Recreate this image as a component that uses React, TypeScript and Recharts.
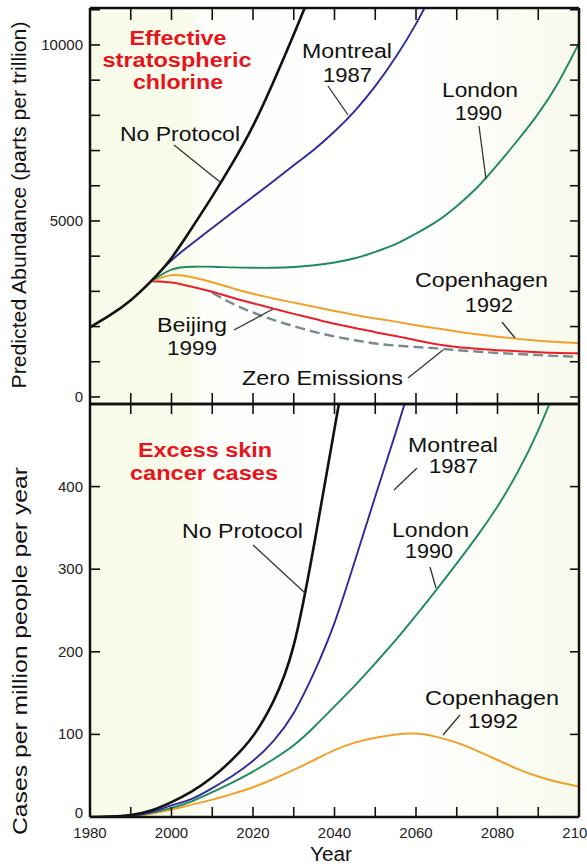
import { LineChart, Line, XAxis, YAxis } from 'recharts';

const YEARS = [1980, 1985, 1990, 1995, 2000, 2005, 2010, 2015, 2020, 2025, 2030, 2035, 2040, 2045, 2050, 2055, 2060, 2065, 2070, 2075, 2080, 2085, 2090, 2095, 2100];

// Effective stratospheric chlorine (ppt)
const chlorineNoProtocol = [1980, 2330, 2750, 3290, 3950, 4800, 5700, 6650, 7700, 8950, 10300, 11700, null, null, null, null, null, null, null, null, null, null, null, null, null];
const chlorineMontreal = [null, null, null, 3290, 3880, 4350, 4800, 5250, 5690, 6130, 6580, 7030, 7540, 8130, 8830, 9650, 10600, 11700, null, null, null, null, null, null, null];
const chlorineLondon = [null, null, null, 3290, 3620, 3700, 3700, 3680, 3670, 3670, 3690, 3740, 3820, 3940, 4120, 4340, 4640, 4980, 5420, 5950, 6600, 7300, 8050, 8950, 10050];
const chlorineCopenhagen = [null, null, null, 3290, 3460, 3400, 3260, 3090, 2930, 2800, 2680, 2560, 2440, 2330, 2230, 2140, 2040, 1950, 1860, 1780, 1710, 1650, 1600, 1560, 1530];
const chlorineBeijing = [null, null, null, 3290, 3250, 3130, 2990, 2820, 2660, 2510, 2360, 2220, 2080, 1960, 1840, 1730, 1610, 1500, 1420, 1370, 1330, 1300, 1270, 1250, 1240];
const chlorineZero = [null, null, null, null, null, null, 2960, 2650, 2400, 2190, 2010, 1850, 1720, 1610, 1520, 1460, 1420, 1380, 1330, 1290, 1250, 1220, 1190, 1160, 1140];

// Excess skin cancer cases (per million people per year)
const casesNoProtocol = [0, 0.5, 2.5, 8, 18, 31, 48, 70, 98, 140, 208, 330, 470, 610, null, null, null, null, null, null, null, null, null, null, null];
const casesMontreal = [0, 0.3, 1.5, 6, 14, 22, 35, 50, 68, 92, 126, 175, 235, 310, 388, 465, 545, null, null, null, null, null, null, null, null];
const casesLondon = [0, 0.3, 1.5, 5, 11, 19, 30, 42, 55, 70, 87, 109, 134, 159, 186, 214, 244, 275, 307, 340, 376, 418, 468, 528, null];
const casesCopenhagen = [0, 0.2, 1, 4, 9, 15, 21, 28, 36, 46, 57, 69, 81, 90, 96, 100, 101, 97, 90, 80, 69, 58, 49, 42, 37];

const X_TICKS = [1980, 1990, 2000, 2010, 2020, 2030, 2040, 2050, 2060, 2070, 2080, 2090, 2100];
const X_LABELS = [1980, 2000, 2020, 2040, 2060, 2080, 2100];
const CHLORINE_TICKS = [0, 1000, 2000, 3000, 4000, 5000, 6000, 7000, 8000, 9000, 10000, 11000];
const CHLORINE_LABELS = [0, 5000, 10000];
const CASES_TICKS = [0, 100, 200, 300, 400];

const chlorineRows = YEARS.map((year, i) => ({
  year,
  noProtocol: chlorineNoProtocol[i],
  montreal: chlorineMontreal[i],
  london: chlorineLondon[i],
  copenhagen: chlorineCopenhagen[i],
  beijing: chlorineBeijing[i],
  zero: chlorineZero[i],
}));

const casesRows = YEARS.map((year, i) => ({
  year,
  noProtocol: casesNoProtocol[i],
  montreal: casesMontreal[i],
  london: casesLondon[i],
  copenhagen: casesCopenhagen[i],
}));

const FONT = '"Liberation Sans", Arial, Helvetica, sans-serif';
const INK = '#111';
const COLORS = {
  noProtocol: '#111111',
  montreal: '#2e2b9c',
  london: '#1f8a5c',
  copenhagen: '#f2a02c',
  beijing: '#e8202a',
  zero: '#7b8993',
};

// tick marks point into the plot, labels sit outside
const leftTick = (labels: number[], zeroDy = 5) => (props: any) => {
  const { x, y, payload } = props;
  return (
    <g>
      <line x1={x} x2={x + 10} y1={y} y2={y} stroke={INK} strokeWidth={1.6} />
      {labels.includes(payload.value) && (
        <text x={x - 7} y={y} dy={payload.value === 0 ? zeroDy : 5} textAnchor="end" fontSize={15} fill="#222" fontFamily={FONT}>
          {payload.value}
        </text>
      )}
    </g>
  );
};

const rightTick = (props: any) => {
  const { x, y } = props;
  return <line x1={x - 9} x2={x} y1={y} y2={y} stroke={INK} strokeWidth={1.6} />;
};

const downTick = (len: number) => (props: any) => {
  const { x, y } = props;
  return <line x1={x} x2={x} y1={y} y2={y + len} stroke={INK} strokeWidth={1.6} />;
};

const upTick = (len: number, withLabel: boolean) => (props: any) => {
  const { x, y, payload } = props;
  return (
    <g>
      <line x1={x} x2={x} y1={y} y2={y - len} stroke={INK} strokeWidth={1.6} />
      {withLabel && X_LABELS.includes(payload.value) && (
        <text x={x} y={y + 21} textAnchor="middle" fontSize={15} fill="#222" fontFamily={FONT}>
          {payload.value}
        </text>
      )}
    </g>
  );
};

const axisLine = { stroke: INK, strokeWidth: 2.5 };

const Note = ({ x, y, w, children, anchor = 'start', bold = false, color = '#111', size = 20 }: any) => (
  <text
    x={x}
    y={y}
    textLength={w}
    lengthAdjust="spacingAndGlyphs"
    textAnchor={anchor}
    fontSize={size}
    fontWeight={bold ? 'bold' : 'normal'}
    fill={color}
    fontFamily={FONT}
  >
    {children}
  </text>
);

const Pointer = ({ x1, y1, x2, y2 }: any) => (
  <line x1={x1} y1={y1} x2={x2} y2={y2} stroke="#333" strokeWidth={1.3} />
);

const App = () => {
  return (
    <div style={{ position: 'absolute', left: 0, top: 0, width: 587, height: 865, overflow: 'hidden', background: '#fff' }}>
      {/* pale shading behind both panels */}
      <div
        style={{
          position: 'absolute',
          left: 90,
          top: 8,
          width: 489,
          height: 809,
          background:
            'linear-gradient(to right, #f9fbea 0%, #f9fbeb 20%, #fefefb 23%, #ffffff 65%, #f8faed 100%)',
        }}
      />

      <div style={{ position: 'absolute', left: 0, top: 0 }}>
        <LineChart width={587} height={406} data={chlorineRows} margin={{ top: 0, right: 0, bottom: 0, left: 0 }}>
          <XAxis xAxisId="t" orientation="top" dataKey="year" type="number" domain={[1980, 2100]} allowDataOverflow
            ticks={X_TICKS} interval={0} height={8} tickSize={0} tickMargin={0} tickLine={false} axisLine={axisLine} tick={downTick(12)} />
          <XAxis xAxisId="b" dataKey="year" type="number" domain={[1980, 2100]} allowDataOverflow
            ticks={X_TICKS} interval={0} height={2} tickSize={0} tickMargin={0} tickLine={false} axisLine={axisLine} tick={upTick(11, false)} />
          <YAxis yAxisId="l" type="number" domain={[-200, 11050]} allowDataOverflow ticks={CHLORINE_TICKS} interval={0}
            width={90} tickSize={0} tickMargin={0} tickLine={false} axisLine={axisLine} tick={leftTick(CHLORINE_LABELS)} />
          <YAxis yAxisId="r" orientation="right" type="number" domain={[-200, 11050]} allowDataOverflow ticks={CHLORINE_TICKS} interval={0}
            width={8} tickSize={0} tickMargin={0} tickLine={false} axisLine={axisLine} tick={rightTick} />
          <Line xAxisId="b" yAxisId="l" type="natural" dataKey="zero" stroke={COLORS.zero} strokeWidth={2.4} strokeDasharray="10 5" dot={false} isAnimationActive={false} />
          <Line xAxisId="b" yAxisId="l" type="natural" dataKey="beijing" stroke={COLORS.beijing} strokeWidth={2} dot={false} isAnimationActive={false} />
          <Line xAxisId="b" yAxisId="l" type="natural" dataKey="copenhagen" stroke={COLORS.copenhagen} strokeWidth={2} dot={false} isAnimationActive={false} />
          <Line xAxisId="b" yAxisId="l" type="natural" dataKey="london" stroke={COLORS.london} strokeWidth={1.9} dot={false} isAnimationActive={false} />
          <Line xAxisId="b" yAxisId="l" type="natural" dataKey="montreal" stroke={COLORS.montreal} strokeWidth={1.9} dot={false} isAnimationActive={false} />
          <Line xAxisId="b" yAxisId="l" type="natural" dataKey="noProtocol" stroke={COLORS.noProtocol} strokeWidth={2.6} dot={false} isAnimationActive={false} />
        </LineChart>
      </div>

      <div style={{ position: 'absolute', left: 0, top: 400 }}>
        <LineChart width={587} height={465} data={casesRows} margin={{ top: 0, right: 0, bottom: 0, left: 0 }}>
          <XAxis xAxisId="t" orientation="top" dataKey="year" type="number" domain={[1980, 2100]} allowDataOverflow
            ticks={X_TICKS} interval={0} height={4} tickSize={0} tickMargin={0} tickLine={false} axisLine={axisLine} tick={downTick(10)} />
          <XAxis xAxisId="b" dataKey="year" type="number" domain={[1980, 2100]} allowDataOverflow
            ticks={X_TICKS} interval={0} height={48} tickSize={0} tickMargin={0} tickLine={false} axisLine={axisLine} tick={upTick(10, true)} />
          <YAxis yAxisId="l" type="number" domain={[0, 500]} allowDataOverflow ticks={CASES_TICKS} interval={0}
            width={90} tickSize={0} tickMargin={0} tickLine={false} axisLine={axisLine} tick={leftTick(CASES_TICKS, 1)} />
          <YAxis yAxisId="r" orientation="right" type="number" domain={[0, 500]} allowDataOverflow ticks={CASES_TICKS} interval={0}
            width={8} tickSize={0} tickMargin={0} tickLine={false} axisLine={axisLine} tick={rightTick} />
          <Line xAxisId="b" yAxisId="l" type="natural" dataKey="copenhagen" stroke={COLORS.copenhagen} strokeWidth={2} dot={false} isAnimationActive={false} />
          <Line xAxisId="b" yAxisId="l" type="natural" dataKey="london" stroke={COLORS.london} strokeWidth={1.9} dot={false} isAnimationActive={false} />
          <Line xAxisId="b" yAxisId="l" type="natural" dataKey="montreal" stroke={COLORS.montreal} strokeWidth={1.9} dot={false} isAnimationActive={false} />
          <Line xAxisId="b" yAxisId="l" type="natural" dataKey="noProtocol" stroke={COLORS.noProtocol} strokeWidth={2.6} dot={false} isAnimationActive={false} />
        </LineChart>
      </div>

      {/* titles and curve labels */}
      <svg width={587} height={865} style={{ position: 'absolute', left: 0, top: 0, pointerEvents: 'none' }}>
        <text transform="translate(26,205) rotate(-90)" textAnchor="middle" fontSize={20} fill="#111" fontFamily={FONT}
          textLength={367} lengthAdjust="spacingAndGlyphs">
          Predicted Abundance (parts per trillion)
        </text>
        <text transform="translate(27,651) rotate(-90)" textAnchor="middle" fontSize={20} fill="#111" fontFamily={FONT}
          textLength={368} lengthAdjust="spacingAndGlyphs">
          Cases per million people per year
        </text>
        <Note x={331} y={861} w={42} anchor="middle">Year</Note>

        <Note x={178} y={45} w={97} anchor="middle" bold color="#e8141c">Effective</Note>
        <Note x={177} y={67} w={149} anchor="middle" bold color="#e8141c">stratospheric</Note>
        <Note x={178} y={89} w={90} anchor="middle" bold color="#e8141c">chlorine</Note>

        <Note x={120} y={141} w={120}>No Protocol</Note>
        <Pointer x1={174} y1={145} x2={220} y2={182} />
        <Note x={302} y={58} w={90}>Montreal</Note>
        <Note x={323} y={82} w={49}>1987</Note>
        <Pointer x1={328} y1={86} x2={348} y2={115} />
        <Note x={442} y={97} w={76}>London</Note>
        <Note x={455} y={120} w={47}>1990</Note>
        <Pointer x1={479} y1={126} x2={486} y2={179} />
        <Note x={415} y={287} w={133}>Copenhagen</Note>
        <Note x={465} y={312} w={48}>1992</Note>
        <Pointer x1={502} y1={322} x2={515} y2={338} />
        <Note x={157} y={332} w={70}>Beijing</Note>
        <Note x={167} y={355} w={50}>1999</Note>
        <Pointer x1={234} y1={330} x2={273} y2={309} />
        <Note x={242} y={385} w={161}>Zero Emissions</Note>
        <Pointer x1={408} y1={378} x2={443} y2={350} />

        <Note x={205} y={457} w={134} anchor="middle" bold color="#e8141c">Excess skin</Note>
        <Note x={204} y={480} w={148} anchor="middle" bold color="#e8141c">cancer cases</Note>
        <Note x={182} y={538} w={121}>No Protocol</Note>
        <Pointer x1={253} y1={545} x2={305} y2={593} />
        <Note x={408} y={452} w={90}>Montreal</Note>
        <Note x={429} y={473} w={49}>1987</Note>
        <Pointer x1={417} y1={468} x2={394} y2={490} />
        <Note x={392} y={537} w={77}>London</Note>
        <Note x={405} y={558} w={48}>1990</Note>
        <Pointer x1={430} y1={567} x2={436} y2={588} />
        <Note x={425} y={705} w={134}>Copenhagen</Note>
        <Note x={468} y={728} w={50}>1992</Note>
        <Pointer x1={460} y1={715} x2={443} y2={735} />
      </svg>
    </div>
  );
};

export default App;
